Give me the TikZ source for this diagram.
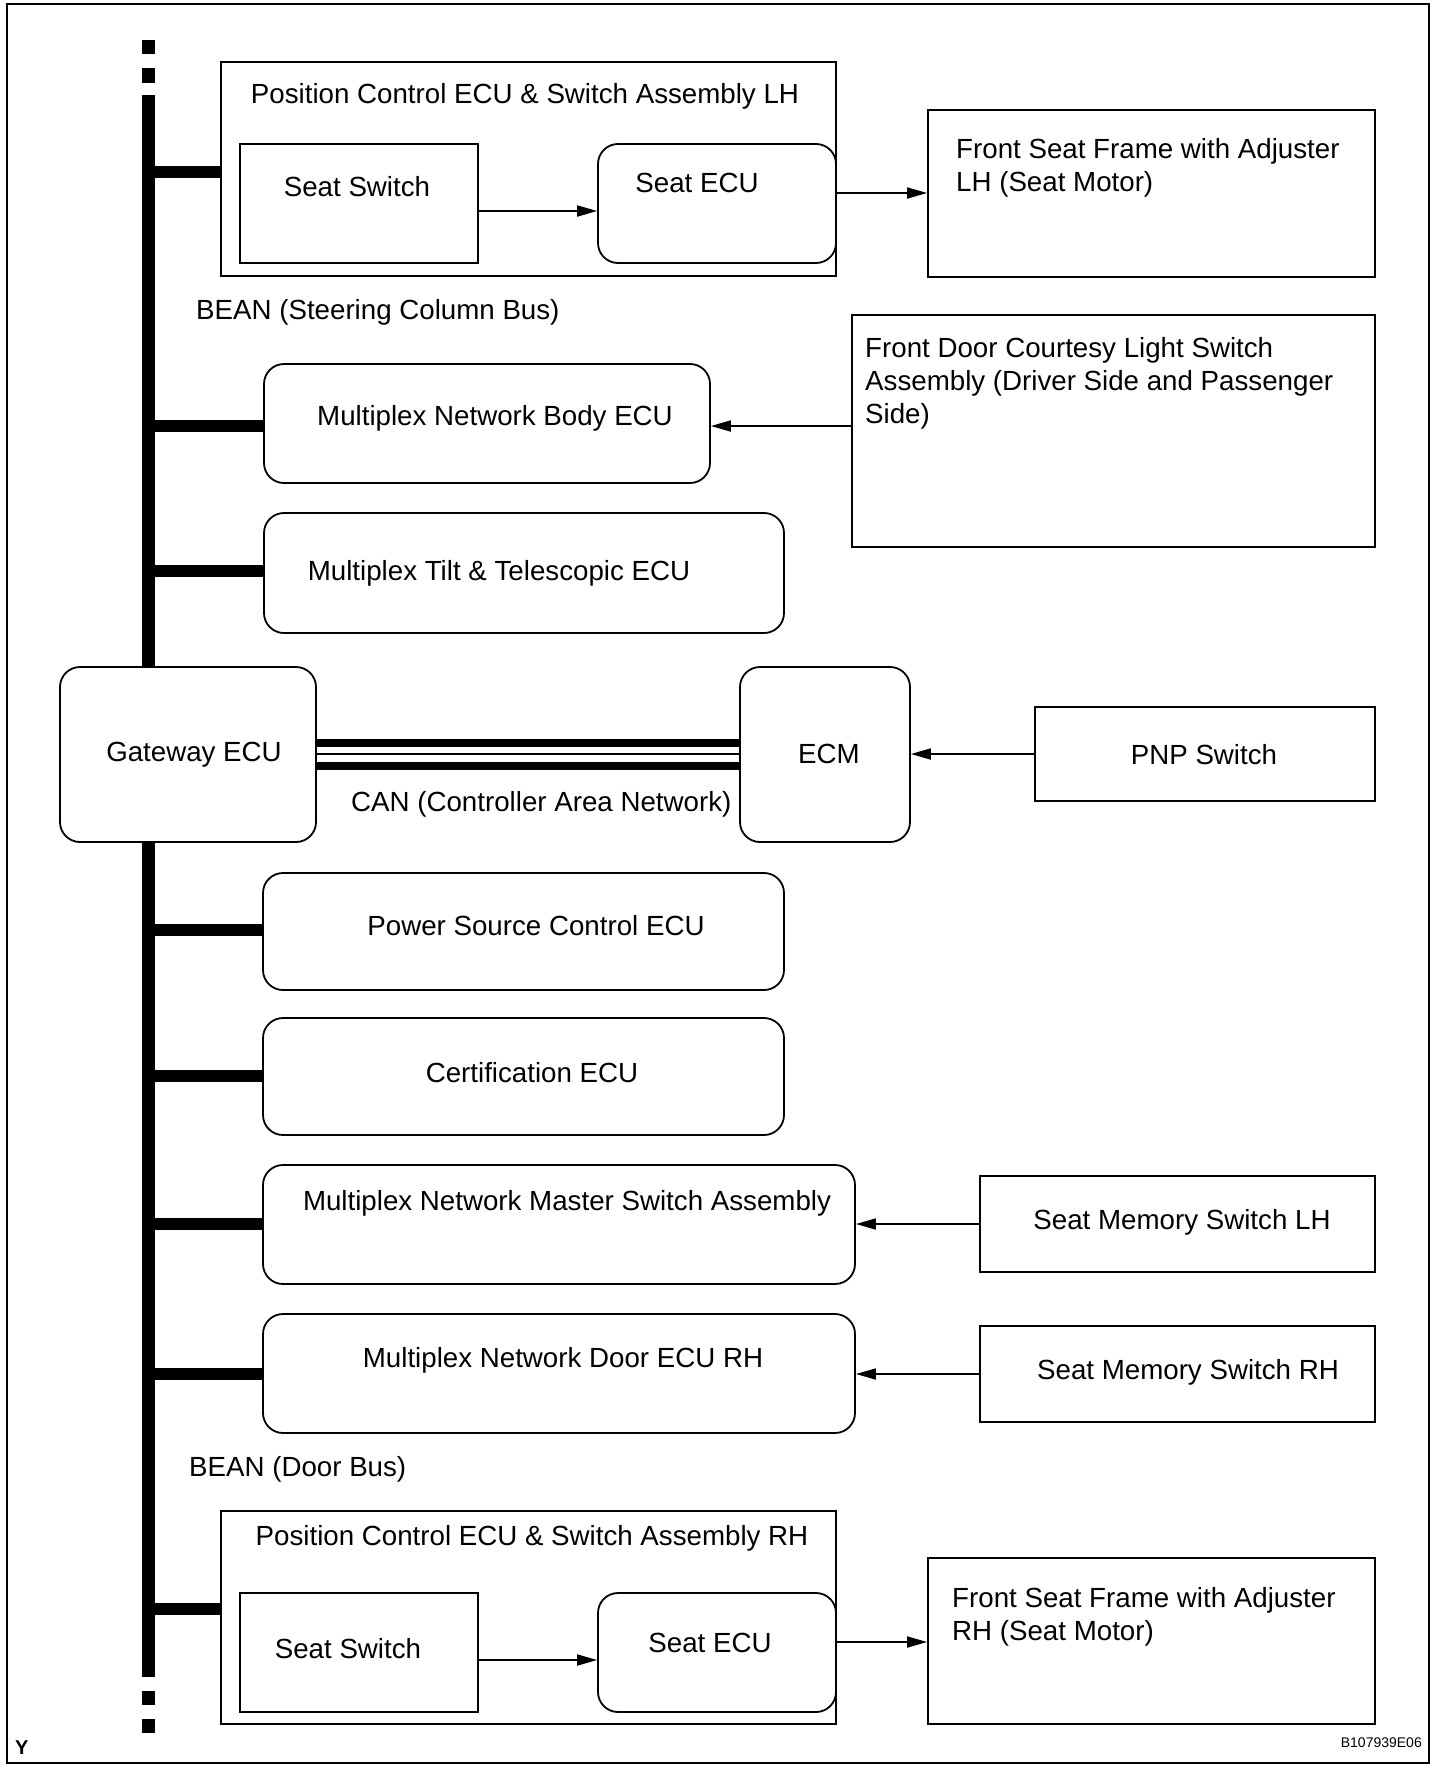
\documentclass[tikz,border=0pt]{standalone}
\usepackage{fontspec}
\setmainfont{Liberation Sans}
\usetikzlibrary{arrows.meta,fit}
\begin{document}
\begin{tikzpicture}[x=1pt,y=-1pt,
  every node/.style={font=\fontsize{27.7}{33.3}\selectfont},
  box/.style={draw, line width=1.8pt, fill=white, inner sep=0pt},
  rbox/.style={box, rounded corners=20pt},
  txt/.style={inner sep=0pt, anchor=base},
  ltxt/.style={inner sep=0pt, anchor=north west, align=left},
  branch/.style={line width=12pt},
  arr/.style={line width=1.8pt, -{Triangle[length=20pt,width=11pt]}},
  canthick/.style={line width=8pt},
  canthin/.style={line width=2pt}
]
\useasboundingbox (0,0) rectangle (1456,1788);
\draw[line width=2.5pt] (7,4) rectangle (1429,1763);

% bus
\coordinate (bt) at (148.5,95);
\coordinate (bb) at (148.5,1677);
\draw[line width=13pt] (bt) -- (bb);
\fill (142,40) rectangle (155,54);
\fill (142,68) rectangle (155,83);
\fill (142,1691) rectangle (155,1705);
\fill (142,1719) rectangle (155,1733);

% branches
\coordinate (y1) at (0,172);
\coordinate (y2) at (0,426);
\coordinate (y3) at (0,571);
\coordinate (y4) at (0,930);
\coordinate (y5) at (0,1076);
\coordinate (y6) at (0,1224);
\coordinate (y7) at (0,1374);
\coordinate (y8) at (0,1609);
\draw[branch] (bt |- y1) -- (221,172);
\draw[branch] (bt |- y2) -- (264,426);
\draw[branch] (bt |- y3) -- (264,571);
\draw[branch] (bt |- y4) -- (263,930);
\draw[branch] (bt |- y5) -- (263,1076);
\draw[branch] (bt |- y6) -- (263,1224);
\draw[branch] (bt |- y7) -- (263,1374);
\draw[branch] (bt |- y8) -- (221,1609);

% boxes
\node[box, fit={(221,62) (836,276)}] (pcl) {};
\node[box, fit={(240,144) (478,263)}] (sswl) {};
\node[rbox, fit={(598,144) (836,263)}] (secul) {};
\node[box, fit={(928,110) (1375,277)}] (fsfl) {};
\node[box, fit={(852,315) (1375,547)}] (fdcl) {};
\node[rbox, fit={(264,364) (710,483)}] (body) {};
\node[rbox, fit={(264,513) (784,633)}] (tilt) {};
\node[rbox, fit={(60,667) (316,842)}] (gw) {};
\node[rbox, fit={(740,667) (910,842)}] (ecm) {};
\node[box, fit={(1035,707) (1375,801)}] (pnp) {};
\node[rbox, fit={(263,873) (784,990)}] (psc) {};
\node[rbox, fit={(263,1018) (784,1135)}] (cert) {};
\node[rbox, fit={(263,1165) (855,1284)}] (mnms) {};
\node[box, fit={(980,1176) (1375,1272)}] (sml) {};
\node[rbox, fit={(263,1314) (855,1433)}] (door) {};
\node[box, fit={(980,1326) (1375,1422)}] (smr) {};
\node[box, fit={(221,1511) (836,1724)}] (pcr) {};
\node[box, fit={(240,1593) (478,1712)}] (sswr) {};
\node[rbox, fit={(598,1593) (836,1712)}] (secur) {};
\node[box, fit={(928,1558) (1375,1724)}] (fsfr) {};

% CAN
\coordinate (c1) at (0,743);
\coordinate (c2) at (0,754);
\coordinate (c3) at (0,766);
\draw[canthick] (gw.east |- c1) -- (ecm.west |- c1);
\draw[canthin] (gw.east |- c2) -- (ecm.west |- c2);
\draw[canthick] (gw.east |- c3) -- (ecm.west |- c3);

% arrows
\coordinate (a1) at (0,211);
\coordinate (a2) at (0,193);
\coordinate (a3) at (0,426);
\coordinate (a4) at (0,754);
\coordinate (a5) at (0,1224);
\coordinate (a6) at (0,1374);
\coordinate (a7) at (0,1660);
\coordinate (a8) at (0,1642);
\draw[arr] (sswl.east |- a1) -- (secul.west |- a1);
\draw[arr] (secul.east |- a2) -- (fsfl.west |- a2);
\draw[arr] (fdcl.west |- a3) -- (body.east |- a3);
\draw[arr] (pnp.west |- a4) -- (ecm.east |- a4);
\draw[arr] (sml.west |- a5) -- (mnms.east |- a5);
\draw[arr] (smr.west |- a6) -- (door.east |- a6);
\draw[arr] (sswr.east |- a7) -- (secur.west |- a7);
\draw[arr] (secur.east |- a8) -- (fsfr.west |- a8);

% texts
\node[txt] (tpcl) at (525,103) {Position Control ECU \& Switch Assembly LH};
\node[txt] (tsswl) at (357,196) {Seat Switch};
\node[txt] (tsecul) at (697,192) {Seat ECU};
\node[ltxt] (tfsfl) at (956,138) {Front Seat Frame with Adjuster\\LH (Seat Motor)};
\node[inner sep=0pt, anchor=base west] (tbean1) at (196,319) {BEAN (Steering Column Bus)};
\node[ltxt] (tfdcl) at (865,337) {Front Door Courtesy Light Switch\\Assembly (Driver Side and Passenger\\Side)};
\node[txt] (tbody) at (495,425) {Multiplex Network Body ECU};
\node[txt] (ttilt) at (499,580) {Multiplex Tilt \& Telescopic ECU};
\node[txt] (tgw) at (194,761) {Gateway ECU};
\node[txt] (tecm) at (829,763) {ECM};
\node[inner sep=0pt, anchor=base west] (tcan) at (351,811) {CAN (Controller Area Network)};
\node[txt] (tpnp) at (1204,764) {PNP Switch};
\node[txt] (tpsc) at (536,935) {Power Source Control ECU};
\node[txt] (tcert) at (532,1082) {Certification ECU};
\node[txt] (tmnms) at (567,1210) {Multiplex Network Master Switch Assembly};
\node[txt] (tsml) at (1182,1229) {Seat Memory Switch LH};
\node[txt] (tdoor) at (563,1367) {Multiplex Network Door ECU RH};
\node[txt] (tsmr) at (1188,1379) {Seat Memory Switch RH};
\node[inner sep=0pt, anchor=base west] (tbean2) at (189,1476) {BEAN (Door Bus)};
\node[txt] (tpcr) at (532,1545) {Position Control ECU \& Switch Assembly RH};
\node[txt] (tsswr) at (348,1658) {Seat Switch};
\node[txt] (tsecur) at (710,1652) {Seat ECU};
\node[ltxt] (tfsfr) at (952,1587) {Front Seat Frame with Adjuster\\RH (Seat Motor)};
\node[inner sep=0pt, anchor=base west, font=\bfseries\fontsize{20}{22}\selectfont] (ty) at (15,1754) {Y};
\node[inner sep=0pt, anchor=base east, font=\fontsize{14}{16}\selectfont] (tid) at (1422,1747) {B107939E06};
\end{tikzpicture}
\end{document}
